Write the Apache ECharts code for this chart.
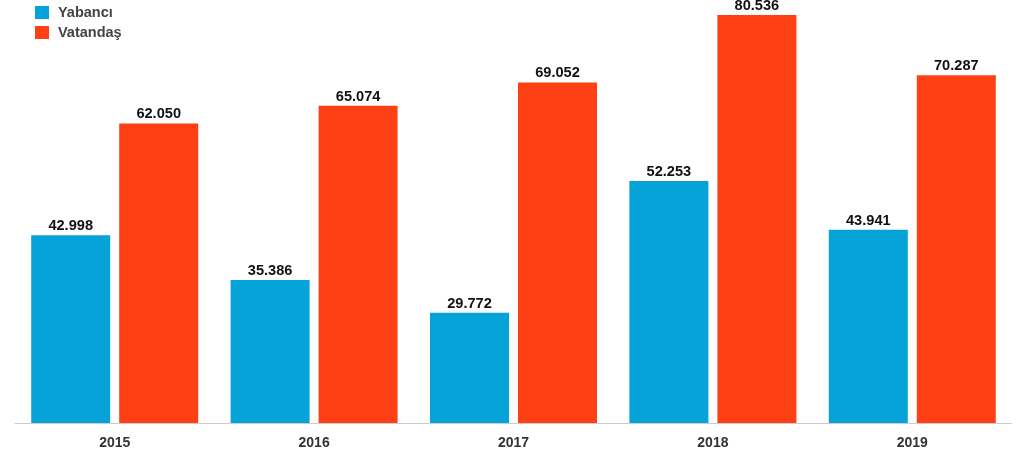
<!DOCTYPE html>
<html><head><meta charset="utf-8">
<script src="https://cdn.jsdelivr.net/npm/echarts@6/dist/echarts.min.js"></script>
<style>html,body{margin:0;padding:0;background:#fff}#c{width:1024px;height:455px}</style>
</head><body><div id="c"></div>
<script>
var categories = ['2015','2016','2017','2018','2019'];
var yabanci = [42998, 35386, 29772, 52253, 43941];
var vatandas = [62050, 65074, 69052, 80536, 70287];
var seriesNames = ['Yabancı','Vatandaş'];
function fmt(v){ return String(v).replace(/\B(?=(\d{3})+(?!\d))/g,'.'); }
var chart = echarts.init(document.getElementById('c'), null, {renderer:'canvas'});
var FF = 'Liberation Sans, Arial, sans-serif';
var lbl = {show:true, position:'top', distance:1.5, color:'#111', fontSize:14.6, fontWeight:'bold',
  fontFamily:FF, formatter:function(p){return fmt(p.value);}};
chart.setOption({
  animation:false,
  legend:{orient:'vertical', left:30, top:0, itemWidth:14, itemHeight:13, itemGap:5, icon:'rect',
    textStyle:{color:'#444', fontSize:14.5, fontWeight:'bold', fontFamily:FF, padding:[0,0,0,4]},
    data:seriesNames},
  grid:{left:15, right:12, top:15, bottom:32},
  xAxis:{type:'category', data:categories,
    axisLine:{lineStyle:{color:'#ccc'}}, axisTick:{show:false},
    axisLabel:{color:'#333', fontSize:14, fontWeight:'bold', margin:13, fontFamily:FF}},
  yAxis:{type:'value', min:11000, max:80536, show:false, splitLine:{show:false}},
  series:[
    {name:seriesNames[0], type:'bar', data:yabanci, barWidth:79, barGap:'11.4%', itemStyle:{color:'#05A3D8'}, label:lbl},
    {name:seriesNames[1], type:'bar', data:vatandas, barWidth:79, itemStyle:{color:'#FF4014'}, label:lbl}
  ]
});
</script></body></html>
